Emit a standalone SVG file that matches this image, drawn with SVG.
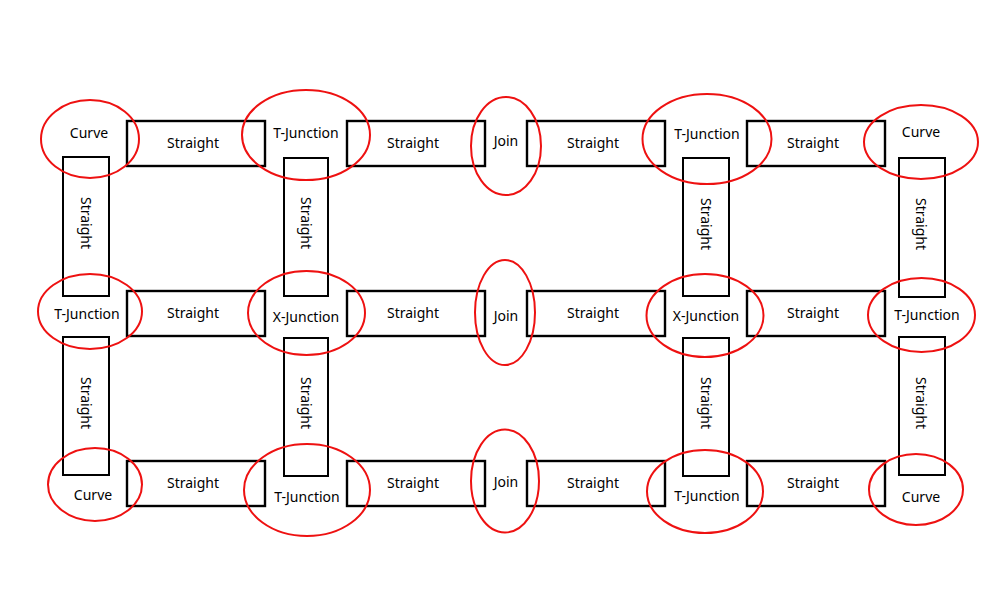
<svg xmlns="http://www.w3.org/2000/svg" width="1000" height="600" viewBox="0 0 1000 600">
<style>
.r{fill:#fff;stroke:#000;stroke-width:2.4}
.v{fill:#fff;stroke:#000;stroke-width:2}
.e{fill:none;stroke:#ee1111;stroke-width:2}
text{font-family:"Noto Sans","Open Sans",sans-serif;font-size:14px;fill:#000;text-anchor:middle}
.vt{dominant-baseline:central}
</style>
<rect width="1000" height="600" fill="#fff"/>
<g id="straights">
<g id="s-h-1-1"><rect class="r" x="127" y="121" width="138" height="45"/><text x="193" y="148">Straight</text></g>
<g id="s-h-1-2"><rect class="r" x="347" y="121" width="138" height="45"/><text x="413" y="148">Straight</text></g>
<g id="s-h-1-3"><rect class="r" x="527" y="121" width="138" height="45"/><text x="593" y="148">Straight</text></g>
<g id="s-h-1-4"><rect class="r" x="747" y="121" width="138" height="45"/><text x="813" y="148">Straight</text></g>
<g id="s-h-2-1"><rect class="r" x="127" y="291" width="138" height="45"/><text x="193" y="318">Straight</text></g>
<g id="s-h-2-2"><rect class="r" x="347" y="291" width="138" height="45"/><text x="413" y="318">Straight</text></g>
<g id="s-h-2-3"><rect class="r" x="527" y="291" width="138" height="45"/><text x="593" y="318">Straight</text></g>
<g id="s-h-2-4"><rect class="r" x="747" y="291" width="138" height="45"/><text x="813" y="318">Straight</text></g>
<g id="s-h-3-1"><rect class="r" x="127" y="461" width="138" height="45"/><text x="193" y="488">Straight</text></g>
<g id="s-h-3-2"><rect class="r" x="347" y="461" width="138" height="45"/><text x="413" y="488">Straight</text></g>
<g id="s-h-3-3"><rect class="r" x="527" y="461" width="138" height="45"/><text x="593" y="488">Straight</text></g>
<g id="s-h-3-4"><rect class="r" x="747" y="461" width="138" height="45"/><text x="813" y="488">Straight</text></g>
<g id="s-v-1-1"><rect class="v" x="63" y="157" width="46" height="139"/><text class="vt" transform="translate(86 223) rotate(90)">Straight</text></g>
<g id="s-v-1-2"><rect class="v" x="284" y="158" width="44" height="138"/><text class="vt" transform="translate(306 223) rotate(90)">Straight</text></g>
<g id="s-v-1-3"><rect class="v" x="683" y="158" width="46" height="138"/><text class="vt" transform="translate(706 224) rotate(90)">Straight</text></g>
<g id="s-v-1-4"><rect class="v" x="899" y="158" width="46" height="139"/><text class="vt" transform="translate(921 224) rotate(90)">Straight</text></g>
<g id="s-v-2-1"><rect class="v" x="63" y="337" width="46" height="138"/><text class="vt" transform="translate(86 403) rotate(90)">Straight</text></g>
<g id="s-v-2-2"><rect class="v" x="284" y="338" width="44" height="138"/><text class="vt" transform="translate(306 403) rotate(90)">Straight</text></g>
<g id="s-v-2-3"><rect class="v" x="683" y="338" width="46" height="138"/><text class="vt" transform="translate(706 403) rotate(90)">Straight</text></g>
<g id="s-v-2-4"><rect class="v" x="899" y="337" width="46" height="138"/><text class="vt" transform="translate(921 403) rotate(90)">Straight</text></g>
</g>
<g id="joints">
<g id="curve-tl"><ellipse class="e" cx="90" cy="139" rx="49" ry="39"/><text x="89" y="138">Curve</text></g>
<g id="tj-top-1"><ellipse class="e" cx="306" cy="135" rx="64" ry="45"/><text x="306" y="138">T-Junction</text></g>
<g id="join-top"><ellipse class="e" cx="506" cy="146" rx="35" ry="49"/><text x="506" y="146">Join</text></g>
<g id="tj-top-2"><ellipse class="e" cx="707" cy="139" rx="64.5" ry="45"/><text x="707" y="139">T-Junction</text></g>
<g id="curve-tr"><ellipse class="e" cx="921" cy="142" rx="57" ry="37"/><text x="921" y="137">Curve</text></g>
<g id="tj-ml"><ellipse class="e" cx="90" cy="311.5" rx="52" ry="37.5"/><text x="87" y="319">T-Junction</text></g>
<g id="xj-1"><ellipse class="e" cx="306.5" cy="313" rx="58.5" ry="42"/><text x="306" y="322">X-Junction</text></g>
<g id="join-mid"><ellipse class="e" cx="505" cy="312.5" rx="30" ry="52.5"/><text x="506" y="321">Join</text></g>
<g id="xj-2"><ellipse class="e" cx="705" cy="315.5" rx="58.5" ry="41.5"/><text x="706" y="321">X-Junction</text></g>
<g id="tj-mr"><ellipse class="e" cx="921.5" cy="315" rx="53.5" ry="37"/><text x="927" y="320">T-Junction</text></g>
<g id="curve-bl"><ellipse class="e" cx="95" cy="484.5" rx="47" ry="36.5"/><text x="93" y="500">Curve</text></g>
<g id="tj-bot-1"><ellipse class="e" cx="307" cy="490" rx="63" ry="46"/><text x="307" y="502">T-Junction</text></g>
<g id="join-bot"><ellipse class="e" cx="505" cy="481" rx="34" ry="51.5"/><text x="506" y="487">Join</text></g>
<g id="tj-bot-2"><ellipse class="e" cx="705" cy="491.5" rx="58" ry="41.5"/><text x="707" y="501">T-Junction</text></g>
<g id="curve-br"><ellipse class="e" cx="916" cy="489.5" rx="47" ry="35.5"/><text x="921" y="502">Curve</text></g>
</g>
<g id="connectors"/>
</svg>
